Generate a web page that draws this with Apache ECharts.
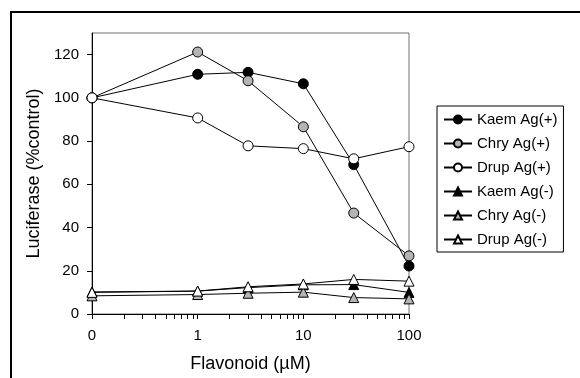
<!DOCTYPE html>
<html>
<head>
<meta charset="utf-8">
<script src="https://cdn.jsdelivr.net/npm/echarts@6/dist/echarts.min.js"></script>
<style>
    html, body { margin: 0; padding: 0; background: #fff; }
    #chart { width: 580px; height: 378px; }
</style>
</head>
<body>
<div id="chart"></div>
<script>
// concentrations (uM); 0 is drawn at the axis start (one decade below 1)
var doses = [0, 1, 3, 10, 30, 100];
var zeroPos = 0.1;

var seriesNames = ['Kaem Ag(+)', 'Chry Ag(+)', 'Drup Ag(+)', 'Kaem Ag(-)', 'Chry Ag(-)', 'Drup Ag(-)'];
var kaemPlus  = [100, 110.9, 111.8, 106.5, 69.1, 22.2];
var chryPlus  = [100, 121.2, 107.9, 86.6, 46.7, 26.9];
var drupPlus  = [100, 90.7, 77.8, 76.5, 71.8, 77.4];
var kaemMinus = [10.2, 10.6, 12.2, 13.5, 13.6, 10.0];
var chryMinus = [8.4, 9.0, 9.6, 10.1, 7.6, 7.0];
var drupMinus = [10.0, 10.6, 12.6, 13.9, 16.0, 15.2];

var yTicks = [0, 20, 40, 60, 80, 100, 120];
var xLabels = [0.1, 1, 10, 100];
var xMinorTicks = [0.1, 0.2, 0.3, 0.4, 0.5, 0.6, 0.7, 0.8, 0.9,
    1, 2, 3, 4, 5, 6, 7, 8, 9, 10, 20, 30, 40, 50, 60, 70, 80, 90, 100];

var font = 'Liberation Sans, Arial, sans-serif';

function pairs(values) {
    return values.map(function(v, i) {
        return [doses[i] === 0 ? zeroPos : doses[i], v];
    });
}

var allValues = [kaemPlus, chryPlus, drupPlus, kaemMinus, chryMinus, drupMinus];
var fills = ['#000', '#b4b4b4', '#fff', '#000', '#b4b4b4', '#fff'];
var symbols = ['circle', 'circle', 'circle', 'triangle', 'triangle', 'triangle'];

var series = seriesNames.map(function(name, i) {
    return {
        name: name,
        type: 'line',
        data: pairs(allValues[i]),
        symbol: symbols[i],
        symbolSize: 10,
        showAllSymbol: true,
        animation: false,
        lineStyle: { color: '#000', width: 1 },
        itemStyle: { color: fills[i], borderColor: '#000', borderWidth: 1, opacity: 1 },
        emphasis: { disabled: true }
    };
});

var myChart = echarts.init(document.getElementById('chart'));

var option = {
    backgroundColor: '#fff',
    animation: false,
    textStyle: { fontFamily: font },
    grid: {
        left: 92,
        top: 33,
        right: 171,
        bottom: 59,
        show: true,
        borderColor: '#707070',
        borderWidth: 1
    },
    xAxis: {
        type: 'log',
        logBase: 10,
        min: 0.1,
        max: 100,
        name: 'Flavonoid (µM)',
        nameLocation: 'middle',
        nameGap: 41,
        nameTextStyle: { fontSize: 18, color: '#000', fontFamily: font },
        axisLine: { show: true, lineStyle: { color: '#000', width: 1 } },
        axisTick: {
            show: true,
            inside: false,
            length: 5,
            customValues: xMinorTicks,
            lineStyle: { color: '#000' }
        },
        axisLabel: {
            fontSize: 15,
            color: '#000',
            margin: 14,
            customValues: xLabels,
            formatter: function(v) { return v < 0.5 ? '0' : String(Math.round(v)); }
        },
        splitLine: { show: false },
        minorTick: { show: false }
    },
    yAxis: {
        type: 'value',
        min: 0,
        max: 130,
        name: 'Luciferase (%control)',
        nameLocation: 'middle',
        nameGap: 42,
        nameTextStyle: { fontSize: 18, color: '#000', fontFamily: font },
        axisLine: { show: true, lineStyle: { color: '#000', width: 1 } },
        axisTick: {
            show: true,
            length: 5,
            customValues: yTicks,
            lineStyle: { color: '#000' }
        },
        axisLabel: {
            fontSize: 15,
            color: '#000',
            margin: 13,
            customValues: yTicks
        },
        splitLine: { show: false }
    },
    legend: {
        data: seriesNames,
        orient: 'vertical',
        left: 437,
        top: 106,
        itemWidth: 28,
        itemHeight: 10,
        itemGap: 9,
        padding: [6, 6, 5, 6],
        borderColor: '#000',
        borderWidth: 1,
        selectedMode: false,
        textStyle: { fontSize: 15, color: '#000', fontFamily: font, lineHeight: 14 }
    },
    graphic: [
        {
            type: 'rect',
            shape: { x: 11, y: 12, width: 700, height: 500 },
            style: { fill: 'none', stroke: '#000', lineWidth: 2 },
            silent: true,
            z: 100
        }
    ],
    series: series
};

myChart.setOption(option);
</script>
</body>
</html>
